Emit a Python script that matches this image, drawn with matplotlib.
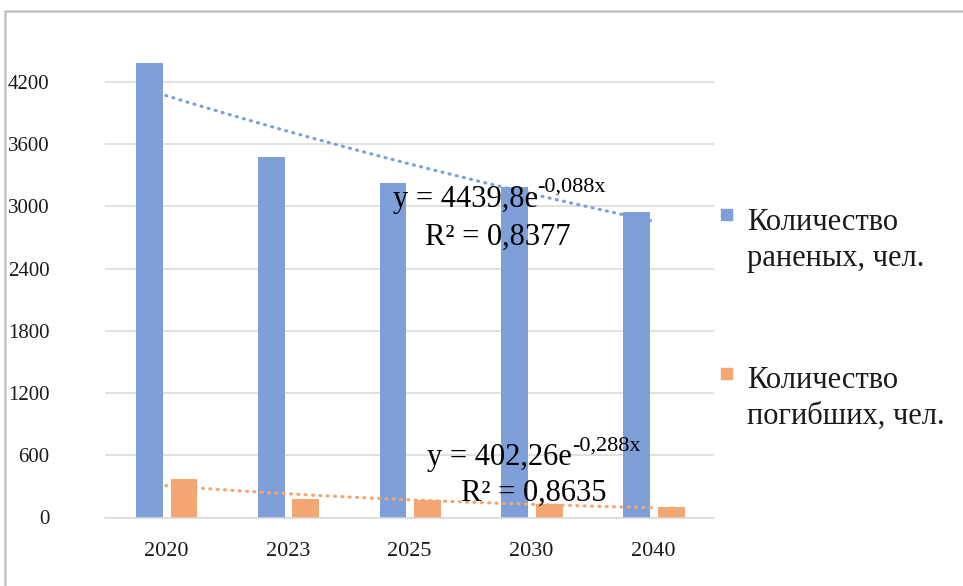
import numpy as np
import matplotlib
matplotlib.use("Agg")
import matplotlib.pyplot as plt
from matplotlib.patches import Rectangle

plt.rcParams['font.family'] = ['Liberation Serif', 'DejaVu Serif']

years = ['2020', '2023', '2025', '2030', '2040']
wounded = [4385, 3475, 3225, 3185, 2945]
killed = [375, 175, 170, 130, 100]
labels = [["Количество", "раненых, чел."], ["Количество", "погибших, чел."]]
eq_text = [("y = 4439,8e", "-0,088x", "R² = 0,8377"),
           ("y = 402,26e", "-0,288x", "R² = 0,8635")]
yticks = [0, 600, 1200, 1800, 2400, 3000, 3600, 4200]

color_blue = "#7F9FD8"
color_orange = "#F4A773"

fig = plt.figure(figsize=(9.63, 5.86), dpi=100)
ax = fig.add_axes([105/963, 1 - 517.5/586, (714 - 105)/963, (517.5 - 19.7)/586])

x = np.arange(len(years))
width = 0.22
ax.bar(x - 0.135, wounded, width, color=color_blue, zorder=2)
ax.bar(x + 0.148, killed, width, color=color_orange, zorder=2)

# exponential trendlines, fitted like Excel with x = 1..n
xs = np.linspace(0, len(years) - 1, 100)
for vals, col in [(wounded, color_blue), (killed, color_orange)]:
    b, lna = np.polyfit(x + 1, np.log(vals), 1)
    ax.plot(xs, np.exp(lna) * np.exp(b * (xs + 1)), color=col, lw=2.3,
            ls=(0, (0.3, 2.0)), dash_capstyle='round', zorder=3)

ax.set_xlim(-0.5, len(years) - 0.5)
ax.set_ylim(0, 4800)
ax.set_yticks(yticks)
ax.set_xticks(x)
ax.set_xticklabels(years)
ax.grid(True, axis='y', color='#d9d9d9', lw=1.1, zorder=0)
for s in ['top', 'right', 'left']:
    ax.spines[s].set_visible(False)
ax.spines['bottom'].set_color('#d9d9d9')
ax.spines['bottom'].set_linewidth(1.1)
ax.tick_params(axis='both', length=0, colors='#1a1a1a')
ax.tick_params(axis='y', pad=40, labelsize=15)
ax.tick_params(axis='x', pad=18, labelsize=16)

# trendline equations
eq_pos = [((1.861, 3062), (2.727, 2705)), ((2.147, 574), (3.02, 236))]
for (main, sup, r2), (p1, p2) in zip(eq_text, eq_pos):
    t = ax.text(p1[0], p1[1], main, fontsize=22, ha='left', va='center', zorder=4)
    ax.annotate(sup, xy=(1.0, 0.6), xycoords=t, fontsize=16,
                ha='left', va='bottom', zorder=4)
    ax.text(p2[0], p2[1], r2, fontsize=22, ha='center', va='center', zorder=4)

# legend drawn by hand, Excel style
leg = [(color_blue, 209, (230, 266)), (color_orange, 368, (388, 424))]
for (col, sq_top, bases), lab in zip(leg, labels):
    fig.patches.append(Rectangle((721/963, 1 - (sq_top + 11)/586), 11/963, 11/586,
                                 transform=fig.transFigure, color=col))
    for base, line in zip(bases, lab):
        fig.text(747/963, 1 - base/586, line, fontsize=22, ha='left',
                 va='baseline', color='#1a1a1a')

# chart border (cut off on right and bottom)
fig.patches.append(Rectangle((5/963, -0.1), 2, 1.1 - 11/586, transform=fig.transFigure,
                             fill=False, ec='#c4c4c4', lw=1.8))

fig.savefig("out.png", dpi=100)
